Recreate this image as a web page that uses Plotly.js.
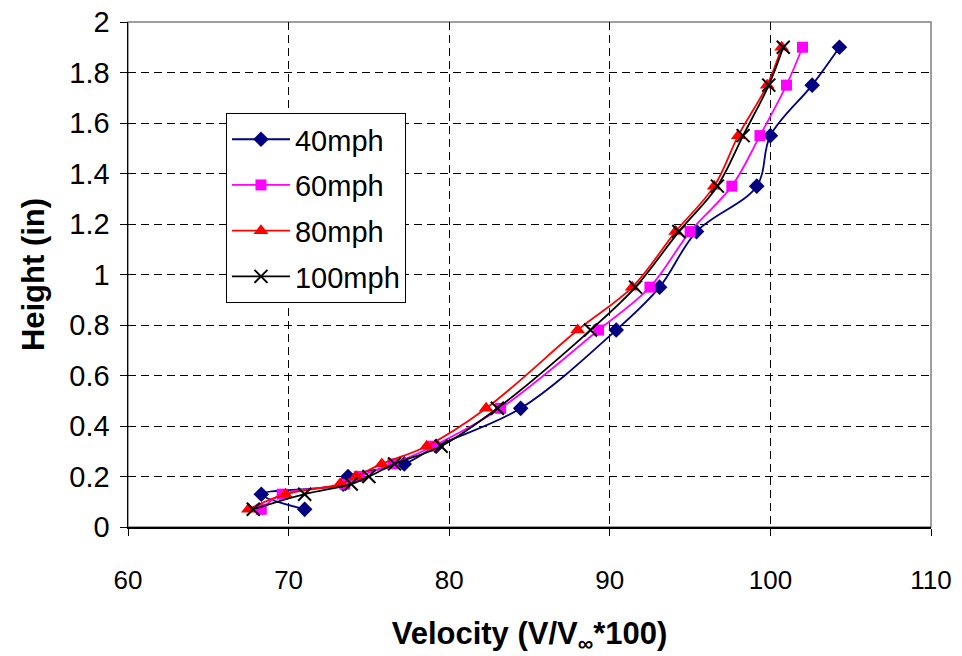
<!DOCTYPE html>
<html>
<head>
<meta charset="utf-8">
<script src="https://cdn.plot.ly/plotly-3.0.1.min.js"></script>
<style>html,body{margin:0;padding:0;background:#fff;}#chart{width:962px;height:656px;}</style>
</head>
<body>
<div id="chart"></div>
<script>
var heights = [0.07, 0.13, 0.17, 0.2, 0.25, 0.32, 0.47, 0.78, 0.95, 1.17, 1.35, 1.55, 1.75, 1.9];
var v40  = [71.0, 68.3, 73.4, 73.7, 77.2, 79.2, 84.45, 90.4, 93.1, 95.4, 99.15, 100.0, 102.6, 104.3];
var v60  = [68.3, 69.6, 73.5, 74.4, 76.5, 79.0, 83.2, 89.3, 92.5, 95.0, 97.6, 99.35, 101.0, 102.0];
var v80  = [67.5, 69.8, 73.2, 74.2, 75.8, 78.6, 82.3, 88.0, 91.4, 94.1, 96.5, 98.0, 99.8, 100.7];
var v100 = [67.8, 71.0, 73.9, 75.0, 76.6, 79.5, 83.0, 88.8, 91.6, 94.3, 96.7, 98.3, 99.9, 100.8];
var seriesNames = ["40mph", "60mph", "80mph", "100mph"];
var xTicks = [60, 70, 80, 90, 100, 110];
var yTicks = [0, 0.2, 0.4, 0.6, 0.8, 1, 1.2, 1.4, 1.6, 1.8, 2];
var yTickText = ["0", "0.2", "0.4", "0.6", "0.8", "1", "1.2", "1.4", "1.6", "1.8", "2"];

var styles = [
  {color: "#000080", symbol: "diamond", size: 12, lw: 1.8},
  {color: "#FF00FF", symbol: "square", size: 11, lw: 1.8},
  {color: "#FF0000", symbol: "triangle-up", size: 13, lw: 1.8},
  {color: "#000000", symbol: "x-thin-open", size: 13, lw: 1.8}
];
var vals = [v40, v60, v80, v100];
var traces = vals.map(function (v, i) {
  var s = styles[i];
  var marker = {color: s.color, symbol: s.symbol, size: s.size};
  if (s.symbol === "x-thin-open") marker.line = {color: s.color, width: 2};
  else marker.line = {width: 0};
  return {
    x: v, y: heights, name: seriesNames[i], type: "scatter", mode: "lines+markers",
    line: {color: s.color, width: s.lw, shape: "spline", smoothing: 1},
    marker: marker, legendgroup: "g" + i
  };
});

var layout = {
  width: 962, height: 656,
  margin: {l: 128, r: 31, t: 22, b: 129},
  paper_bgcolor: "#fff", plot_bgcolor: "#fff",
  font: {family: "Liberation Sans, Arial, sans-serif", color: "#000", size: 22},
  showlegend: true,
  legend: {
    x: 0.122, y: 0.82, xanchor: "left", yanchor: "top",
    bordercolor: "#000", borderwidth: 1, bgcolor: "#fff",
    font: {size: 29, family: "Liberation Sans, Arial, sans-serif"},
    traceorder: "grouped", tracegroupgap: 5, itemwidth: 58
  },
  xaxis: {
    range: [60, 110], tickvals: xTicks, ticktext: xTicks.map(String),
    showgrid: true, gridcolor: "#000", gridwidth: 1, griddash: "8px,5px",
    showline: true, linecolor: "#000", linewidth: 1.5,
    ticks: "outside", ticklen: 7, tickcolor: "#000", ticklabelstandoff: 22,
    zeroline: false,
    tickfont: {size: 26},
    title: {text: "<b>Velocity (V/V<sub>∞</sub>*100)</b>", font: {size: 31}, standoff: 30}
  },
  yaxis: {
    range: [0, 2], tickvals: yTicks, ticktext: yTickText,
    showgrid: true, gridcolor: "#000", gridwidth: 1, griddash: "8px,5px",
    showline: true, linecolor: "#000", linewidth: 1.5,
    ticks: "outside", ticklen: 7, tickcolor: "#000", ticklabelstandoff: 4,
    zeroline: false,
    tickfont: {size: 29},
    title: {text: "<b>Height (in)</b>", font: {size: 31}, standoff: 15}
  },
  shapes: [{
    type: "rect", xref: "paper", yref: "paper", x0: 0, x1: 1, y0: 0, y1: 1,
    line: {color: "#808080", width: 1.5}, layer: "below"
  }]
};

Plotly.newPlot("chart", traces, layout, {displayModeBar: false, staticPlot: true});
</script>
</body>
</html>
